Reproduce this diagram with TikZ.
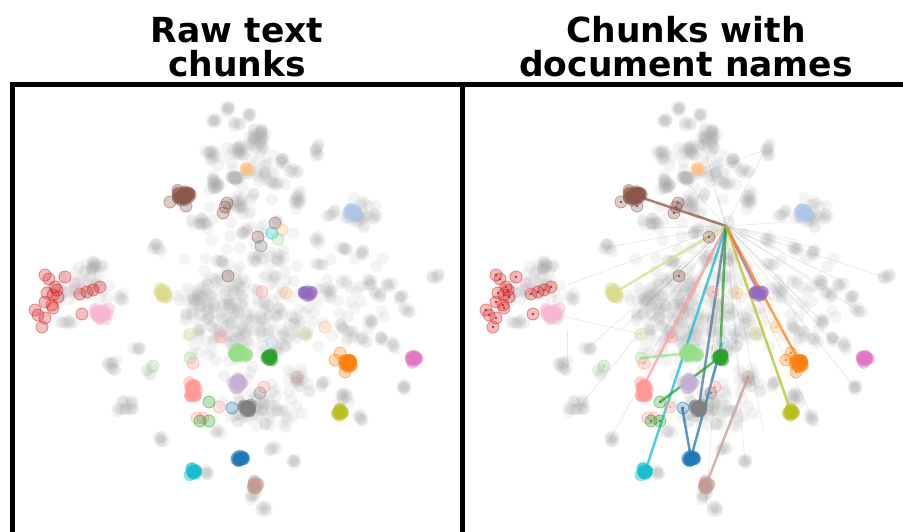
\documentclass[tikz,border=0pt]{standalone}
\usepackage{fontspec}
\setmainfont{DejaVu Sans}
\usetikzlibrary{positioning}

\definecolor{tabblue}{HTML}{1F77B4}
\definecolor{tabblueL}{HTML}{AEC7E8}
\definecolor{taborange}{HTML}{FF7F0E}
\definecolor{taborangeL}{HTML}{FFBB78}
\definecolor{tabgreen}{HTML}{2CA02C}
\definecolor{tabgreenL}{HTML}{98DF8A}
\definecolor{tabred}{HTML}{D62728}
\definecolor{tabredL}{HTML}{FF9896}
\definecolor{tabpurple}{HTML}{9467BD}
\definecolor{tabpurpleL}{HTML}{C5B0D5}
\definecolor{tabbrown}{HTML}{8C564B}
\definecolor{tabbrownL}{HTML}{C49C94}
\definecolor{tabpink}{HTML}{E377C2}
\definecolor{tabpinkL}{HTML}{F7B6D2}
\definecolor{tabgray}{HTML}{7F7F7F}
\definecolor{tabolive}{HTML}{BCBD22}
\definecolor{taboliveL}{HTML}{DBDB8D}
\definecolor{tabcyan}{HTML}{17BECF}
\definecolor{cloudgray}{HTML}{A8A8A8}

\newif\ifmarked

% grey background chunks: x/y/spread x/spread y/count
\newcommand\cloudpoints{%
  \foreach \cx/\cy/\sx/\sy/\n in {227/108/5/4/7, 215/122/5/4/7, 237/123/5/4/6, 248/115/4/4/6,
      256/138/12/12/36, 240/150/10/8/18, 210/155/8/8/14, 317/150/4/8/10, 283/162/6/5/9,
      293/172/6/5/7, 213/185/10/8/22, 263/173/5/5/6, 277/185/5/5/6, 298/200/6/12/16,
      200/222/10/8/16, 245/232/6/5/7, 240/205/15/12/24, 330/213/6/5/7, 360/215/18/18/34,
      318/240/6/5/6, 345/248/6/5/7, 363/252/5/5/6, 157/247/6/6/9, 435/277/5/5/7,
      235/320/55/50/150, 200/300/25/25/35, 285/330/25/25/30, 370/282/5/5/7, 390/285/5/5/6,
      378/295/5/5/6, 400/298/5/5/6, 407/312/5/5/6, 372/322/5/5/6, 330/290/6/6/7,
      320/265/5/5/5, 343/325/6/5/6, 352/335/6/5/6, 363/338/5/5/6, 382/338/5/5/6,
      392/345/5/5/6, 403/388/5/5/7, 323/383/5/5/6, 343/398/8/8/12, 360/418/6/5/7,
      80/285/35/20/45, 95/265/12/8/18, 65/322/10/5/9, 120/298/5/5/6, 110/365/8/8/12,
      137/348/5/5/6, 150/372/5/5/5, 127/408/12/10/18, 160/440/5/5/7, 207/473/5/5/6,
      252/495/6/6/7, 265/508/5/5/7, 273/448/5/5/6, 293/463/5/5/6, 217/433/5/5/5,
      265/410/45/25/70, 300/380/15/15/18, 255/260/6/6/7, 280/257/6/6/7, 220/263/6/6/7,
      250/290/80/110/110, 335/300/55/55/40, 250/170/40/40/40}{
    \foreach \k in {1,...,\n}{
      \fill[cloud] ({\cx+\sx*(rand+rand)/2},{\cy+\sy*(rand+rand)/2}) circle[radius=6];
    }
  }}

% coloured document clusters
\newcommand\colourblobs{%
  \foreach \cx/\cy/\sx/\sy/\n/\col in {183/195/9/6/30/tabbrown, 247/169/2/2/3/taborangeL,
      235/178/4/2/6/gray!55, 352/212/6/5/15/tabblueL, 101/314/9/6/30/tabpinkL,
      163/293/5/7/15/taboliveL, 308/293/5/3/10/tabpurple, 240/353/8/5/30/tabgreenL,
      269/357/4/4/15/tabgreen, 193/390/4/9/25/tabredL, 237/383/6/6/20/tabpurpleL,
      248/408/6/4/25/tabgray, 349/363/6/6/25/taborange, 414/359/4/4/15/tabpink,
      340/412/4/4/12/tabolive, 240/458/5/4/15/tabblue, 194/472/5/4/15/tabcyan,
      255/485/5/5/12/tabbrownL}{
    \foreach \k in {1,...,\n}{
      \filldraw[dot=\col] ({\cx+\sx*(rand+rand)/2},{\cy+\sy*(rand+rand)/2}) circle[radius=6];
    }
  }}

% single chunks away from their document
\newcommand\colouroutliers{%
  \foreach \px/\py/\col in {170/202/tabbrown, 186/206/tabbrown, 227/203/tabbrown,
      225/207/tabbrown, 223/213/tabbrown, 258/237/tabbrown, 228/276/tabbrown,
      286/293/taborangeL, 325/327/taborangeL, 153/366/tabgreenL, 190/358/tabgreenL,
      45/275/tabred, 49/279/tabred, 65/277/tabred, 55/287/tabred, 57/290/tabred,
      53/295/tabred, 47/293/tabred, 58/297/tabred, 45/302/tabred, 52/305/tabred,
      53/308/tabred, 35/310/tabred, 38/315/tabred, 45/318/tabred, 42/327/tabred,
      80/294/tabred, 87/292/tabred, 93/290/tabred, 100/287/tabred, 82/314/tabred,
      75/285/tabpinkL, 262/292/tabredL, 221/337/tabredL, 193/363/tabredL, 264/387/tabredL,
      219/407/tabredL, 197/418/tabredL, 203/418/tabredL, 190/334/taboliveL, 305/333/taboliveL,
      272/343/tabblueL, 209/402/tabgreen, 200/421/tabgreen, 209/421/tabgreen,
      232/408/tabblue, 260/393/tabgray, 297/377/tabbrownL,
      340/353/taborange, 335/360/taborange, 345/372/taborange}{
    \filldraw[ring=\col] (\px,\py) circle[radius=6];
    \ifmarked \fill[\col] (\px,\py) circle[radius=1.3]; \fi
  }}

% chunks that sit where the document names meet (hidden on the right)
\newcommand\hubchunks{%
  \foreach \px/\py/\col in {275/223/tabbrown, 282/230/taborangeL, 272/233/tabcyan,
      278/239/tabgreenL, 261/246/tabgray}{
    \filldraw[ring=\col] (\px,\py) circle[radius=6];
  }}

\begin{document}
\begin{tikzpicture}[x=1pt,y=-1pt,
    cloud/.style={fill=cloudgray, fill opacity=0.12},
    dot/.style={fill=#1, fill opacity=0.45, draw=#1, draw opacity=0.3, line width=0.5},
    ring/.style={fill=#1, fill opacity=0.3, draw=#1, draw opacity=0.5, line width=0.8},
    link/.style={draw=#1, line width=2.5, draw opacity=0.75},
    faint/.style={draw=gray, line width=0.7, draw opacity=0.18},
    frame/.style={line width=5},
    title/.style={font=\bfseries\fontsize{34.5}{40}\selectfont, inner sep=0, anchor=base}]
\useasboundingbox (0,0) rectangle (903,532);

% titles
\node[title] (raw1) at (237,42.5) {Raw text};
\node[title] (raw2) at (237,76.7) {chunks};
\node[title] (doc1) at (686,42.5) {Chunks with};
\node[title] (doc2) at (686,76.7) {document names};

% left panel: raw chunks
\begin{scope}
  \pgfmathsetseed{7}
  \cloudpoints
  \markedfalse
  \colourblobs
  \colouroutliers
  \hubchunks
\end{scope}

% right panel: chunks with document names
\begin{scope}[shift={(451,0)}]
  \pgfmathsetseed{7}
  \cloudpoints
  \coordinate (hub) at (275,226);
  \foreach \ex/\ey in {314/150, 251/140, 234/180, 197/228, 157/247, 116/285, 434/277,
      339/222, 406/310, 389/280, 369/320, 382/292, 404/388, 361/418, 384/343, 294/463,
      255/505, 159/440, 138/347, 130/405, 200/300, 230/320, 250/300, 290/330, 320/300,
      300/270, 210/270, 170/330, 260/360, 290/390, 330/250, 350/300, 190/370, 226/207,
      260/180, 345/240, 372/250, 215/350, 245/430, 312/430}{
    \coordinate (g) at (\ex,\ey);
    \draw[faint] (hub) -- (g);
  }
  \coordinate (pinkc) at (101,314);
  \coordinate (olivec) at (190,334);
  \coordinate (lowa) at (116,330);
  \coordinate (lowb) at (116,362);
  \coordinate (topr) at (314,150);
  \coordinate (pill) at (234,180);
  \draw[faint] (pinkc) -- (olivec);
  \draw[faint] (lowa) -- (lowb);
  \draw[faint] (topr) -- (pill);
  % document links
  \coordinate (cbrown) at (183,195);
  \coordinate (coliveL) at (163,293);
  \coordinate (credL) at (193,385);
  \coordinate (ccyan) at (194,472);
  \coordinate (cgray) at (248,406);
  \coordinate (cblue) at (240,458);
  \coordinate (oblue) at (231,407);
  \coordinate (oblueL) at (271,343);
  \coordinate (cgreen) at (269,357);
  \coordinate (ogreen) at (209,402);
  \coordinate (cgreenL) at (240,353);
  \coordinate (ogreenL) at (190,358);
  \coordinate (cpurple) at (308,293);
  \coordinate (corange) at (349,363);
  \coordinate (colive) at (340,412);
  \coordinate (cbrownL) at (255,485);
  \coordinate (obrownL) at (297,377);
  \draw[link=tabbrown] (cbrown) -- (hub);
  \draw[link=taboliveL] (coliveL) -- (hub);
  \draw[link=tabredL] (credL) -- (hub);
  \draw[link=tabcyan] (ccyan) -- (hub);
  \draw[link=tabblue!55!tabgray] (cgray) -- (hub);
  \draw[link=tabblue] (cblue) -- (oblue);
  \draw[link=tabblue] (cblue) -- (oblueL);
  \draw[link=tabgreen] (cgreen) -- (hub);
  \draw[link=tabgreen] (cgreen) -- (ogreen);
  \draw[link=tabgreenL] (cgreenL) -- (ogreenL);
  \draw[link=tabpurple] (cpurple) -- (hub);
  \draw[link=taborange] (corange) -- (hub);
  \draw[link=tabolive] (colive) -- (hub);
  \draw[link=tabbrownL] (cbrownL) -- (obrownL);
  \markedtrue
  \colourblobs
  \colouroutliers
\end{scope}

% panel frames
\draw[frame] (12.5,540) -- (12.5,84.5) -- (910,84.5);
\draw[frame] (462.5,84.5) -- (462.5,540);
\end{tikzpicture}
\end{document}
